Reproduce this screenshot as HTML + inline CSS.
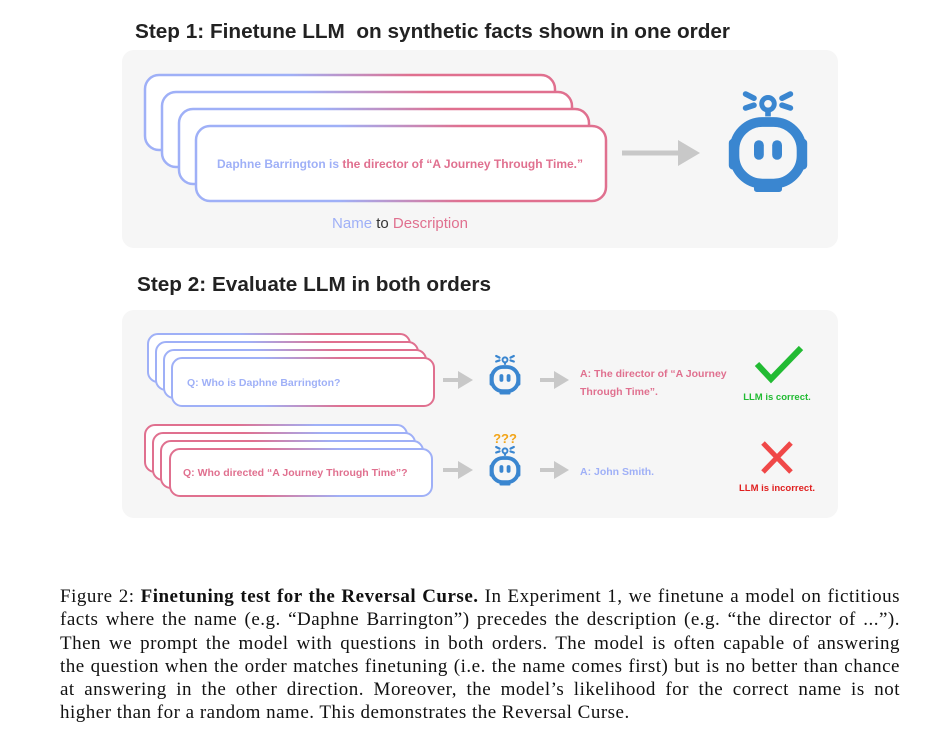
<!DOCTYPE html>
<html><head><meta charset="utf-8"><style>
body{margin:0;width:950px;height:740px;background:#fff;position:relative;overflow:hidden;font-family:"Liberation Sans",sans-serif}
.cap{position:absolute;left:60px;width:840px;font-family:"Liberation Serif",serif;font-size:19px;letter-spacing:0.5px;color:#111;line-height:23.3px;top:585px}
.cap div{text-align:justify;text-align-last:justify;white-space:nowrap}
.cap div.l{text-align-last:left}
</style></head><body>
<svg width="950" height="580" style="position:absolute;left:0;top:0" font-family="Liberation Sans, sans-serif">
<defs>
<linearGradient id="bp" x1="0" x2="1" y1="0" y2="0"><stop offset="0.35" stop-color="#9fb0f7"/><stop offset="0.65" stop-color="#e0708f"/></linearGradient>
<linearGradient id="pb" x1="0" x2="1" y1="0" y2="0"><stop offset="0.35" stop-color="#e0708f"/><stop offset="0.65" stop-color="#9fb0f7"/></linearGradient>
<g id="robot">
<rect x="-28" y="-8" width="6" height="22" rx="3" fill="#3a86d0"/>
<rect x="22" y="-8" width="6" height="22" rx="3" fill="#3a86d0"/>
<rect x="-24" y="-20" width="48" height="44" rx="20" fill="none" stroke="#3a86d0" stroke-width="7"/>
<rect x="-10" y="-7" width="7" height="14" rx="3.5" fill="#3a86d0"/>
<rect x="3" y="-7" width="7" height="14" rx="3.5" fill="#3a86d0"/>
<rect x="-10" y="24" width="20" height="6" rx="2" fill="#3a86d0"/>
<line x1="0" y1="-24" x2="0" y2="-29" stroke="#3a86d0" stroke-width="4"/>
<circle cx="0" cy="-33" r="4.5" fill="none" stroke="#3a86d0" stroke-width="3.5"/>
<line x1="-16" y1="-40" x2="-10" y2="-37" stroke="#3a86d0" stroke-width="4" stroke-linecap="round"/>
<line x1="-16" y1="-30" x2="-10" y2="-32" stroke="#3a86d0" stroke-width="4" stroke-linecap="round"/>
<line x1="16" y1="-40" x2="10" y2="-37" stroke="#3a86d0" stroke-width="4" stroke-linecap="round"/>
<line x1="16" y1="-30" x2="10" y2="-32" stroke="#3a86d0" stroke-width="4" stroke-linecap="round"/>
</g>
</defs>
<text x="135" y="38" font-size="20" fill="#222" font-weight="bold" textLength="595" lengthAdjust="spacingAndGlyphs" xml:space="preserve">Step 1: Finetune LLM  on synthetic facts shown in one order</text>
<rect x="122" y="50" width="716" height="198" rx="12" fill="#f6f6f6"/>
<g fill="#fff" stroke="url(#bp)" stroke-width="2.5">
<rect x="145" y="75" width="410" height="75" rx="14"/>
<rect x="162" y="92" width="410" height="75" rx="14"/>
<rect x="179" y="109" width="410" height="75" rx="14"/>
<rect x="196" y="126" width="410" height="75" rx="14"/>
</g>
<text x="400" y="168" font-size="12" text-anchor="middle" font-weight="bold"><tspan fill="#9fb0f7">Daphne Barrington is </tspan><tspan fill="#e0708f">the director of “A Journey Through Time.”</tspan></text>
<text x="400" y="228" font-size="15" text-anchor="middle"><tspan fill="#9fb0f7">Name</tspan><tspan fill="#333"> to </tspan><tspan fill="#e0708f">Description</tspan></text>
<line x1="622" y1="153" x2="680" y2="153" stroke="#c8c8c8" stroke-width="5"/>
<polygon points="678,140 700,153 678,166" fill="#c8c8c8"/>
<use href="#robot" transform="translate(768,150) scale(1.4)"/>

<text x="137" y="291" font-size="20" fill="#222" font-weight="bold" textLength="354" lengthAdjust="spacingAndGlyphs">Step 2: Evaluate LLM in both orders</text>
<rect x="122" y="310" width="716" height="208" rx="12" fill="#f6f6f6"/>
<g fill="#fff" stroke="url(#bp)" stroke-width="2">
<rect x="148" y="334" width="262" height="48" rx="10"/>
<rect x="156" y="342" width="262" height="48" rx="10"/>
<rect x="164" y="350" width="262" height="48" rx="10"/>
<rect x="172" y="358" width="262" height="48" rx="10"/>
</g>
<text x="187" y="386" font-size="10.5" fill="#9fb0f7" font-weight="bold">Q: Who is Daphne Barrington?</text>
<g fill="#fff" stroke="url(#pb)" stroke-width="2">
<rect x="145" y="425" width="262" height="47" rx="10"/>
<rect x="153" y="433" width="262" height="47" rx="10"/>
<rect x="161" y="441" width="262" height="47" rx="10"/>
<rect x="170" y="449" width="262" height="47" rx="10"/>
</g>
<text x="183" y="476" font-size="10.5" fill="#e0708f" font-weight="bold">Q: Who directed “A Journey Through Time”?</text>
<g fill="#c8c8c8">
<line x1="443" y1="380" x2="460" y2="380" stroke="#c8c8c8" stroke-width="4"/><polygon points="458,371 473,380 458,389"/>
<line x1="540" y1="380" x2="556" y2="380" stroke="#c8c8c8" stroke-width="4"/><polygon points="554,371 569,380 554,389"/>
<line x1="443" y1="470" x2="460" y2="470" stroke="#c8c8c8" stroke-width="4"/><polygon points="458,461 473,470 458,479"/>
<line x1="540" y1="470" x2="556" y2="470" stroke="#c8c8c8" stroke-width="4"/><polygon points="554,461 569,470 554,479"/>
</g>
<use href="#robot" transform="translate(505,378) scale(0.55)"/>
<use href="#robot" transform="translate(505,469) scale(0.55)"/>
<text x="505" y="443" font-size="13" fill="#f2a51a" font-weight="bold" text-anchor="middle">???</text>
<text x="580" y="377" font-size="10.5" fill="#e0708f" font-weight="bold">A: The director of “A Journey</text>
<text x="580" y="395" font-size="10.5" fill="#e0708f" font-weight="bold">Through Time”.</text>
<text x="580" y="475" font-size="10.5" fill="#9fb0f7" font-weight="bold">A: John Smith.</text>
<polyline points="757,364 771,379 801,348" fill="none" stroke="#22bb33" stroke-width="6"/>
<text x="777" y="400" font-size="9.5" fill="#22bb33" font-weight="bold" text-anchor="middle">LLM is correct.</text>
<g stroke="#f04848" stroke-width="5"><line x1="763" y1="443" x2="791" y2="472"/><line x1="791" y1="443" x2="763" y2="472"/></g>
<text x="777" y="491" font-size="9.5" fill="#e02020" font-weight="bold" text-anchor="middle">LLM is incorrect.</text>
</svg>
<div class="cap">
<div>Figure 2: <b>Finetuning test for the Reversal Curse.</b> In Experiment 1, we finetune a model on fictitious</div>
<div>facts where the name (e.g. “Daphne Barrington”) precedes the description (e.g. “the director of ...”).</div>
<div>Then we prompt the model with questions in both orders. The model is often capable of answering</div>
<div>the question when the order matches finetuning (i.e. the name comes first) but is no better than chance</div>
<div>at answering in the other direction. Moreover, the model’s likelihood for the correct name is not</div>
<div class="l">higher than for a random name. This demonstrates the Reversal Curse.</div>
</div>
</body></html>
